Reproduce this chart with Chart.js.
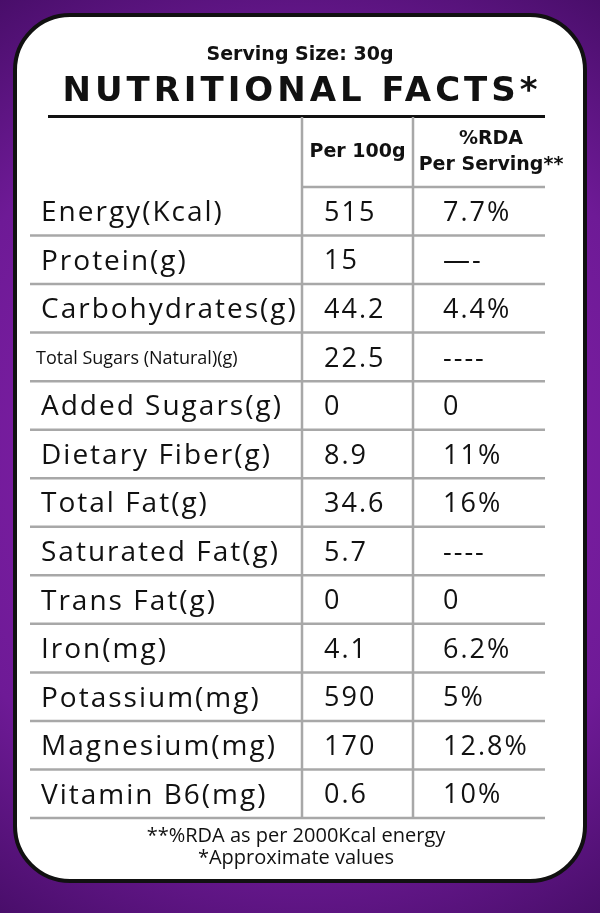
<!DOCTYPE html>
<html>
<head>
<meta charset="utf-8">
<script src="https://cdn.jsdelivr.net/npm/chart.js@4.4.1/dist/chart.umd.min.js"></script>
<style>
  html, body { margin: 0; padding: 0; background: #4a0f6e; }
  canvas { display: block; }
</style>
</head>
<body>
<canvas id="facts" width="600" height="913"></canvas>
<script>
var nutrients = ["Energy(Kcal)", "Protein(g)", "Carbohydrates(g)", "Total Sugars (Natural)(g)",
  "Added Sugars(g)", "Dietary Fiber(g)", "Total Fat(g)", "Saturated Fat(g)", "Trans Fat(g)",
  "Iron(mg)", "Potassium(mg)", "Magnesium(mg)", "Vitamin B6(mg)"];
var per100g = ["515", "15", "44.2", "22.5", "0", "8.9", "34.6", "5.7", "0", "4.1", "590", "170", "0.6"];
var rdaPerServing = ["7.7%", "—-", "4.4%", "----", "0", "11%", "16%", "----", "0", "6.2%", "5%", "12.8%", "10%"];
var columnHeads = [["Per 100g"], ["%RDA", "Per Serving**"]];
var footNotes = ["**%RDA as per 2000Kcal energy", "*Approximate values"];

// column edges, relative to the chart area left
var colEdges = [0, 272, 383, 515];

function roundRect(ctx, x, y, w, h, r) {
  ctx.beginPath();
  ctx.moveTo(x + r, y);
  ctx.arcTo(x + w, y, x + w, y + h, r);
  ctx.arcTo(x + w, y + h, x, y + h, r);
  ctx.arcTo(x, y + h, x, y, r);
  ctx.arcTo(x, y, x + w, y, r);
  ctx.closePath();
}

var panelPlugin = {
  id: "panel",
  beforeDraw: function (chart) {
    var ctx = chart.ctx, W = chart.width, H = chart.height;
    var g = ctx.createRadialGradient(W / 2, H / 2, 50, W / 2, H / 2, 600);
    g.addColorStop(0, "#8a22b0");
    g.addColorStop(0.6, "#6e1a96");
    g.addColorStop(1, "#3d0a5c");
    ctx.save();
    ctx.fillStyle = g;
    ctx.fillRect(0, 0, W, H);
    roundRect(ctx, 15, 15, 570, 866, 55);
    ctx.fillStyle = "#fff";
    ctx.fill();
    ctx.lineWidth = 4;
    ctx.strokeStyle = "#111";
    ctx.stroke();
    ctx.restore();
  },
  afterDraw: function (chart) {
    var ctx = chart.ctx, area = chart.chartArea, y = chart.scales.y;
    var L = area.left;
    var step = (area.bottom - area.top) / nutrients.length;
    ctx.save();
    ctx.fillStyle = "#111";
    ctx.textBaseline = "middle";

    // titles
    ctx.textAlign = "center";
    ctx.font = "bold 19px 'DejaVu Sans'";
    ctx.fillText("Serving Size: 30g", 300, 55);
    ctx.font = "bold 34px 'DejaVu Sans'";
    ctx.letterSpacing = "4px";
    ctx.fillText("NUTRITIONAL FACTS*", 302, 92);
    ctx.letterSpacing = "0px";
    ctx.fillRect(48, 115, 497, 3);

    // column heads
    var headTop = 117;
    ctx.font = "bold 19px 'DejaVu Sans'";
    columnHeads.forEach(function (lines, i) {
      var cx = L + (colEdges[i + 1] + colEdges[i + 2]) / 2;
      if (i === 1) cx += 12;
      lines.forEach(function (t, j) {
        var cy = (headTop + area.top) / 2 + (j - (lines.length - 1) / 2) * 26;
        ctx.fillText(t, cx, cy);
      });
    });

    // grid
    ctx.strokeStyle = "#a8a8a8";
    ctx.lineWidth = 2.5;
    [1, 2].forEach(function (i) {
      ctx.beginPath();
      ctx.moveTo(L + colEdges[i], headTop);
      ctx.lineTo(L + colEdges[i], area.bottom);
      ctx.stroke();
    });
    for (var k = 0; k <= nutrients.length; k++) {
      var ly = area.top + k * step;
      ctx.beginPath();
      ctx.moveTo(L + (k === 0 ? colEdges[1] : 0), ly);
      ctx.lineTo(L + colEdges[3], ly);
      ctx.stroke();
    }

    // rows
    ctx.textAlign = "left";
    nutrients.forEach(function (name, i) {
      var cy = y.getPixelForValue(i) + 2;
      if (name.length > 20) {
        ctx.letterSpacing = "0px";
        ctx.font = "18px 'Open Sans'";
        ctx.fillText(name, L + 6, cy);
      } else {
        ctx.letterSpacing = "2px";
        ctx.font = "28px 'Open Sans'";
        ctx.fillText(name, L + 11, cy);
      }
      ctx.letterSpacing = "2px";
      ctx.font = "27px 'Open Sans'";
      ctx.fillText(per100g[i], L + colEdges[1] + 22, cy);
      ctx.fillText(rdaPerServing[i], L + colEdges[2] + 30, cy);
    });
    ctx.letterSpacing = "0px";

    // footnotes
    ctx.textAlign = "center";
    ctx.font = "20px 'Open Sans'";
    footNotes.forEach(function (t, j) {
      ctx.fillText(t, 296, area.bottom + 18 + j * 22);
    });
    ctx.restore();
  }
};

new Chart(document.getElementById("facts"), {
  type: "bar",
  data: {
    labels: nutrients,
    datasets: [{ data: nutrients.map(function () { return null; }), backgroundColor: "transparent" }]
  },
  options: {
    indexAxis: "y",
    responsive: false,
    animation: false,
    layout: { padding: { left: 30, right: 55, top: 187, bottom: 95 } },
    plugins: { legend: { display: false }, tooltip: { enabled: false } },
    scales: {
      y: { type: "category", offset: true, display: false },
      x: { min: 0, max: 1, display: false }
    }
  },
  plugins: [panelPlugin]
});
</script>
</body>
</html>
